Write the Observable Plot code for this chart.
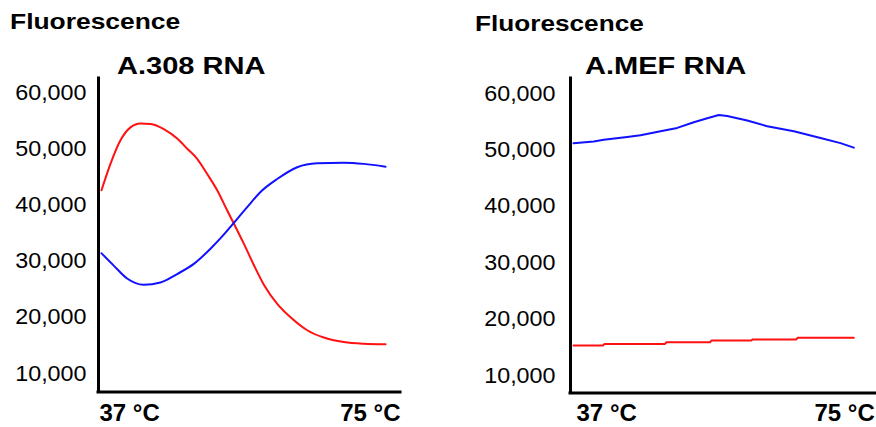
<!DOCTYPE html>
<html>
<head>
<meta charset="utf-8">
<script src="https://cdn.jsdelivr.net/npm/d3@7"></script>
<script src="https://cdn.jsdelivr.net/npm/@observablehq/plot@0.6"></script>
<style>
  html, body { margin: 0; padding: 0; background: #fff; }
  #wrap { position: relative; width: 876px; height: 427px; overflow: hidden; font-family: "Liberation Sans", Arial, sans-serif; }
  .ttl { position: absolute; font-weight: bold; line-height: 1; white-space: nowrap; color: #000; transform-origin: 0 0; }
  .panel { position: absolute; top: 0; }
</style>
</head>
<body>
<div id="wrap"></div>
<script>
// ---- data ----
const yLabel = "Fluorescence";
const panelTitles = ["A.308 RNA", "A.MEF RNA"];
const yTicks = [10000, 20000, 30000, 40000, 50000, 60000];
const xTicks = [37, 75];
const xTickLabels = ["37 °C", "75 °C"];

// A.308 RNA
const a308RedT  = [37, 38.2, 39.54, 40.88, 42.22, 43.56, 45.34, 47.13, 48.47, 49.8, 51.14, 52.48, 53.82, 54.7, 56.04, 57.38, 58.72, 60.51, 62.29, 64.52, 66.74, 69.42, 72.1, 75];
const a308RedF  = [42600, 47300, 51500, 53800, 54500, 54400, 53500, 51800, 50000, 48200, 45500, 42600, 39000, 36700, 33100, 29300, 25800, 22400, 20000, 17700, 16400, 15600, 15300, 15200];
const a308BlueT = [37, 38.64, 40.43, 42.65, 44.89, 47.12, 49.35, 51.58, 53.36, 54.7, 56.49, 58.27, 60.5, 63.18, 65.85, 69.41, 72.1, 75];
const a308BlueF = [31400, 29200, 26900, 25800, 26200, 27700, 29500, 32200, 34700, 36800, 39600, 42300, 44600, 46700, 47400, 47500, 47300, 46800];

// A.MEF RNA
const mefBlueT = [37, 39.75, 41.1, 44.28, 46.08, 48.8, 51.06, 53.31, 55.13, 56.7, 57.84, 60.55, 63.26, 66.87, 70.49, 73.2, 75];
const mefBlueF = [51200, 51500, 51800, 52300, 52600, 53300, 53900, 54900, 55600, 56200, 56000, 55200, 54200, 53300, 52100, 51200, 50400];
const mefRedT  = [37, 41.0, 41.2, 49.4, 49.6, 55.5, 55.7, 61.1, 61.3, 67.2, 67.4, 75];
const mefRedF  = [15300, 15300, 15600, 15600, 15900, 15900, 16200, 16200, 16400, 16400, 16700, 16700];

const seriesColors = {red: "#ff1111", blue: "#1111ff"};

const zip = (T, F) => T.map((t, i) => ({t, f: F[i]}));

function panel(cfg) {
  const xd = cfg.xDomain, yd = cfg.yDomain;
  const svg = Plot.plot({
    width: 438, height: 427,
    marginLeft: cfg.ml, marginRight: cfg.mr, marginTop: 78, marginBottom: cfg.mb,
    style: {fontFamily: '"Liberation Sans", Arial, sans-serif', fontSize: "22px", color: "#000", background: "transparent", overflow: "visible"},
    x: {domain: xd, axis: null},
    y: {domain: yd, axis: null},
    marks: [
      Plot.axisY(yTicks, {tickSize: 0, tickPadding: cfg.tp, tickFormat: d3.format(","), label: null, fontSize: 22}),
      Plot.axisX([xTicks[0]], {tickSize: 0, tickPadding: cfg.xp, tickFormat: () => xTickLabels[0], textAnchor: "start", dx: cfg.dx0, label: null, fontSize: 24, fontWeight: "bold"}),
      Plot.axisX([xTicks[1]], {tickSize: 0, tickPadding: cfg.xp, tickFormat: () => xTickLabels[1], textAnchor: "end", dx: cfg.dx1, label: null, fontSize: 24, fontWeight: "bold"}),
      Plot.lineY(zip(cfg.redT, cfg.redF), {x: "t", y: "f", stroke: seriesColors.red, strokeWidth: 2, curve: cfg.redCurve}),
      Plot.lineY(zip(cfg.blueT, cfg.blueF), {x: "t", y: "f", stroke: seriesColors.blue, strokeWidth: 2, curve: cfg.blueCurve}),
      Plot.ruleX([xd[0]], {stroke: "#000", strokeWidth: 3, strokeLinecap: "square"}),
      Plot.ruleY([yd[0]], {stroke: "#000", strokeWidth: 3, strokeLinecap: "square"})
    ]
  });
  svg.classList.add("panel");
  svg.style.left = cfg.left + "px";
  return svg;
}

const wrap = document.getElementById("wrap");

const left = panel({
  left: 0, ml: 98, mr: 38, mb: 35.5, tp: 12, xp: 11.5, dx0: -2, dx1: 15,
  xDomain: [36.6, 77.0], yDomain: [6710, 62490],
  redT: a308RedT, redF: a308RedF, blueT: a308BlueT, blueF: a308BlueF,
  redCurve: "monotone-x", blueCurve: "monotone-x"
});
const right = panel({
  left: 438, ml: 132, mr: 0, mb: 34.5, tp: 15, xp: 10.5, dx0: 3, dx1: 21,
  xDomain: [36.59, 78.08], yDomain: [6900, 62660],
  redT: mefRedT, redF: mefRedF, blueT: mefBlueT, blueF: mefBlueF,
  redCurve: "linear", blueCurve: "linear"
});
wrap.appendChild(left);
wrap.appendChild(right);

// slight horizontal stretch of the y tick labels to match the reference lettering
for (const svg of [left, right]) {
  svg.querySelectorAll('[aria-label="y-axis tick label"] text').forEach(t => {
    const L = t.getComputedTextLength();
    t.setAttribute("textLength", (L * 1.06).toFixed(1));
    t.setAttribute("lengthAdjust", "spacingAndGlyphs");
  });
}

// titles
function title(text, x, top, size, sx) {
  const d = document.createElement("div");
  d.className = "ttl";
  d.textContent = text;
  d.style.left = x + "px";
  d.style.top = top + "px";
  d.style.fontSize = size + "px";
  d.style.transform = `scaleX(${sx})`;
  wrap.appendChild(d);
}
title(yLabel, 10, 11.4, 22, 1.2);
title(yLabel, 475, 13.4, 22, 1.19);
title(panelTitles[0], 117, 53.7, 24, 1.21);
title(panelTitles[1], 585, 53.7, 24, 1.21);
</script>
</body>
</html>
